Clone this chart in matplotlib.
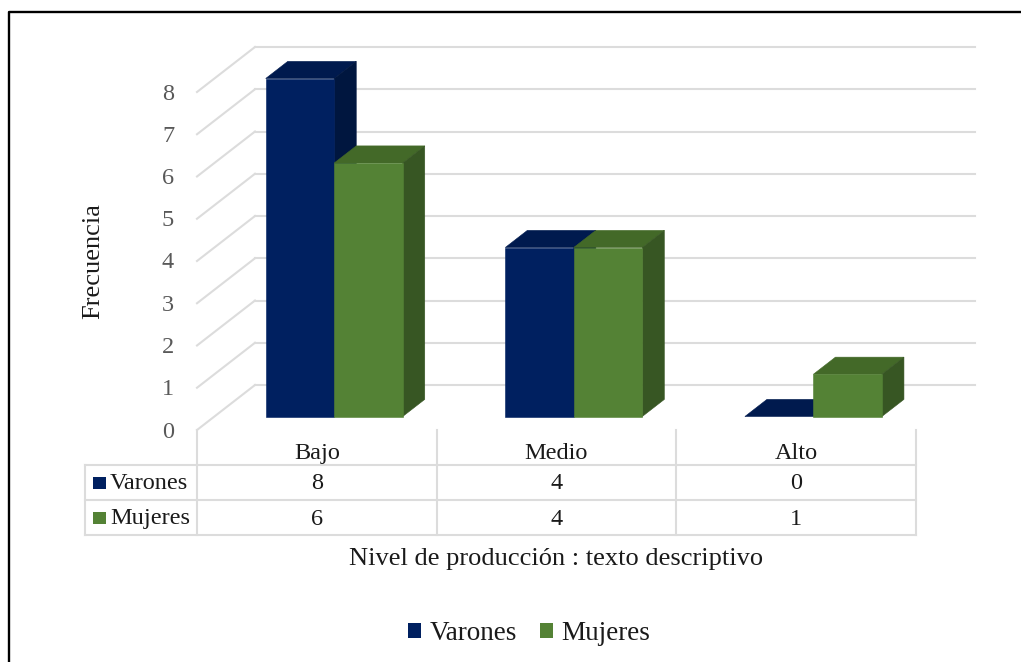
import matplotlib
matplotlib.use("Agg")
import matplotlib.pyplot as plt
from matplotlib.patches import Patch, Polygon, Rectangle

plt.rcParams['font.family'] = ['Liberation Serif', 'DejaVu Serif']

categories = ["Bajo", "Medio", "Alto"]
varones = [8, 4, 0]
mujeres = [6, 4, 1]
ticks = [0, 1, 2, 3, 4, 5, 6, 7, 8]

W, H = 1021, 662
fig = plt.figure(figsize=(W / 100, H / 100), dpi=100)

# ejes a toda la figura: 1 categoria = 239.6 px, 1 unidad = 42.25 px
ux, uy = 239.6, 42.25
x0, y0 = 197, 430
ax = fig.add_axes([0, 0, 1, 1])
ax.set_xlim(-0.5 - x0 / ux, -0.5 + (W - x0) / ux)
ax.set_ylim(-(H - y0) / uy, y0 / uy)
ax.axis("off")

# profundidad de la pared y de las barras
wall_dx, wall_dy = 58 / ux, 45 / uy
z1, z2 = 0.30, 0.68
bar_w = 68.5 / ux
grid = "#dcdcdc"


def proj(x, y, z):
    return (x + z * wall_dx, y + z * wall_dy)


# grilla
for t in ticks:
    ax.plot([-0.5, -0.5 + wall_dx], [t, t + wall_dy], color=grid, lw=1.5, zorder=1)
    ax.plot([-0.5 + wall_dx, -0.5 + 778 / ux], [t + wall_dy, t + wall_dy], color=grid, lw=1.5, zorder=1)
    ax.text(-0.5 - 29 / ux, t - 2 / uy, str(t), color="#595959", fontsize=17.5, ha="center", va="center")


def bar3d(left, val, front, top, side, z):
    right = left + bar_w
    # primero tapa y lateral, el frente encima para que no queden hendijas
    ax.add_patch(Polygon([proj(left, val, z1), proj(right, val, z1), proj(right, val, z2), proj(left, val, z2)], fc=top, ec=top, lw=0.4, zorder=z))
    if val > 0:
        ax.add_patch(Polygon([proj(right, 0, z1), proj(right, 0, z2), proj(right, val, z2), proj(right, val, z1)], fc=side, ec=side, lw=0.4, zorder=z))
        ax.add_patch(Polygon([proj(left, 0, z1), proj(right, 0, z1), proj(right, val, z1), proj(left, val, z1)], fc=front, ec=front, lw=0.4, zorder=z))


for i in range(len(categories)):
    bar3d(i - bar_w, varones[i], "#002060", "#001a4e", "#00163f", 3)
    bar3d(i, mujeres[i], "#548235", "#436928", "#375623", 4)

# tabla de datos
left = -0.5 - 112 / ux
r1, r2, r3 = (y0 - 465) / uy, (y0 - 500) / uy, (y0 - 535) / uy
for y in [r1, r2, r3]:
    ax.plot([left, 2.5], [y, y], color=grid, lw=1.5, zorder=1)
for x in [-0.5, 0.5, 1.5, 2.5]:
    ax.plot([x, x], [0, r3], color=grid, lw=1.5, zorder=1)
ax.plot([left, left], [r1, r3], color=grid, lw=1.5, zorder=1)

for i, c in enumerate(categories):
    ax.text(i, r1 / 2 - 6 / uy, c, fontsize=17.5, color="#1a1a1a", ha="center", va="center")
    ax.text(i, (r1 + r2) / 2 - 1 / uy, str(varones[i]), fontsize=17.5, color="#1a1a1a", ha="center", va="center")
    ax.text(i, (r2 + r3) / 2 - 2 / uy, str(mujeres[i]), fontsize=17.5, color="#1a1a1a", ha="center", va="center")

for name, col, ya, yb in [("Varones", "#002060", r1, r2), ("Mujeres", "#548235", r2, r3)]:
    ym = (ya + yb) / 2
    ax.add_patch(Rectangle((left + 8 / ux, ym - 6 / uy), 12.5 / ux, 12 / uy, fc=col, ec="none"))
    ax.text(left + 25 / ux, ym - 1 / uy, name, fontsize=17.5, color="#1a1a1a", ha="left", va="center")

ax.text(-0.5 - 104 / ux, (y0 - 261) / uy, "Frecuencia", fontsize=19, rotation=90, color="#1a1a1a", ha="center", va="center")
ax.text(-0.5 + 359 / ux, (y0 - 559) / uy, "Nivel de producción : texto descriptivo", fontsize=19, color="#1a1a1a", ha="center", va="center")

handles = [Patch(fc="#002060", label="Varones"), Patch(fc="#548235", label="Mujeres")]
fig.legend(handles=handles, loc="center", bbox_to_anchor=(529 / W, 1 - 634 / H), ncol=2, frameon=False,
           fontsize=19.5, handlelength=0.48, handleheight=0.48, handletextpad=0.3, columnspacing=0.85, labelcolor="#1a1a1a")

# marco negro de la imagen (solo arriba y a la izquierda)
ax.plot([-0.5 - 188 / ux, -0.5 - 188 / ux, -0.5 + (W - x0) / ux],
        [-(H - y0) / uy, (y0 - 12) / uy, (y0 - 12) / uy], color="black", lw=1.7, zorder=5, clip_on=False)

fig.savefig("out.png", dpi=100)
